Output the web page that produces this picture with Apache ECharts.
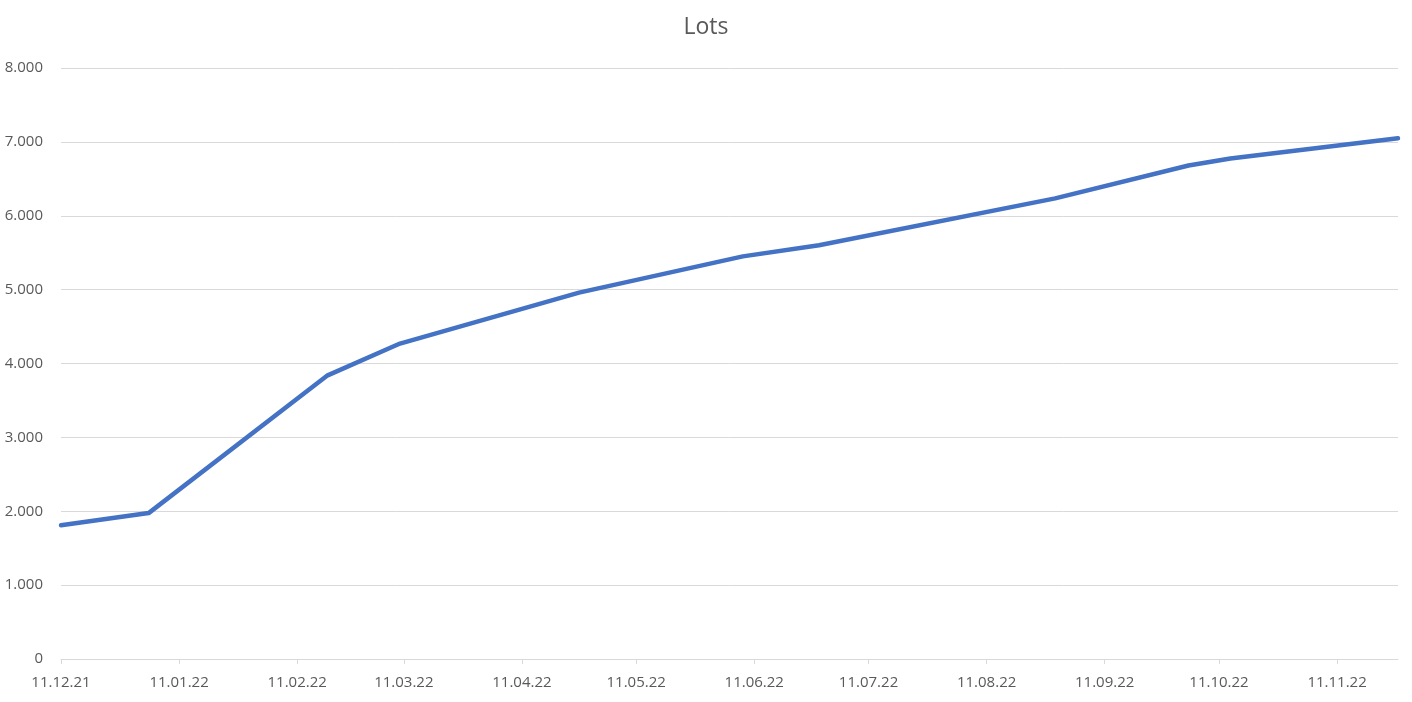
<!DOCTYPE html>
<html>
<head>
<meta charset="utf-8">
<script src="https://cdn.jsdelivr.net/npm/echarts@6/dist/echarts.min.js"></script>
<style>
html,body{margin:0;padding:0;background:#fff;}
#c{width:1412px;height:702px;}
</style>
</head>
<body>
<div id="c"></div>
<script>
// Data
const dates = ['2021-12-11','2022-01-03','2022-02-19','2022-03-10','2022-04-26','2022-06-08','2022-06-28','2022-08-29','2022-10-03','2022-10-14','2022-11-27'];
const lots = [1810, 1975, 3840, 4270, 4960, 5450, 5600, 6235, 6680, 6775, 7050];
const tickDates = ['2021-12-11','2022-01-11','2022-02-11','2022-03-11','2022-04-11','2022-05-11','2022-06-11','2022-07-11','2022-08-11','2022-09-11','2022-10-11','2022-11-11'];
const yTicks = [0,1000,2000,3000,4000,5000,6000,7000,8000];

const DAY = 86400000;
function utc(s){const p=s.split('-').map(Number);return Date.UTC(p[0],p[1]-1,p[2]);}
const base = utc(dates[0]);
function dayNum(s){return Math.round((utc(s)-base)/DAY);}
function pad(n){return (n<10?'0':'')+n;}
function fmtDay(v){const d=new Date(base+Math.round(v)*DAY);return pad(d.getUTCDate())+'.'+pad(d.getUTCMonth()+1)+'.'+pad(d.getUTCFullYear()%100);}
function fmtNum(v){if(v===0)return '0';const s=String(Math.round(v));return s.replace(/\B(?=(\d{3})+(?!\d))/g,'.');}

const tickDays = tickDates.map(dayNum);
const chart = echarts.init(document.getElementById('c'));
chart.setOption({
  animation:false,
  backgroundColor:'#ffffff',
  title:{text:'Lots',left:'center',top:11,textStyle:{fontFamily:'Open Sans',fontSize:23,fontWeight:'normal',color:'#595959'}},
  grid:{left:61,right:14,top:68,bottom:43,containLabel:false},
  xAxis:{
    type:'value',
    min:0,
    max:dayNum(dates[dates.length-1]),
    axisLine:{show:true,lineStyle:{color:'#d9d9d9',width:1}},
    axisTick:{show:true,customValues:tickDays,length:5,lineStyle:{color:'#d9d9d9'}},
    axisLabel:{customValues:tickDays,formatter:fmtDay,color:'#595959',fontFamily:'Open Sans',fontSize:15,margin:16,showMinLabel:true,showMaxLabel:true},
    splitLine:{show:false}
  },
  yAxis:{
    type:'value',
    min:yTicks[0],max:yTicks[yTicks.length-1],interval:1000,
    axisLine:{show:false},axisTick:{show:false},
    axisLabel:{formatter:fmtNum,color:'#595959',fontFamily:'Open Sans',fontSize:15,margin:18},
    splitLine:{show:true,lineStyle:{color:'#d9d9d9',width:1}}
  },
  series:[{
    type:'line',
    data:dates.map((d,i)=>[dayNum(d),lots[i]]),
    showSymbol:false,
    lineStyle:{color:'#4472C4',width:4.5,join:'round',cap:'round'},
    itemStyle:{color:'#4472C4'}
  }]
});
</script>
</body>
</html>
